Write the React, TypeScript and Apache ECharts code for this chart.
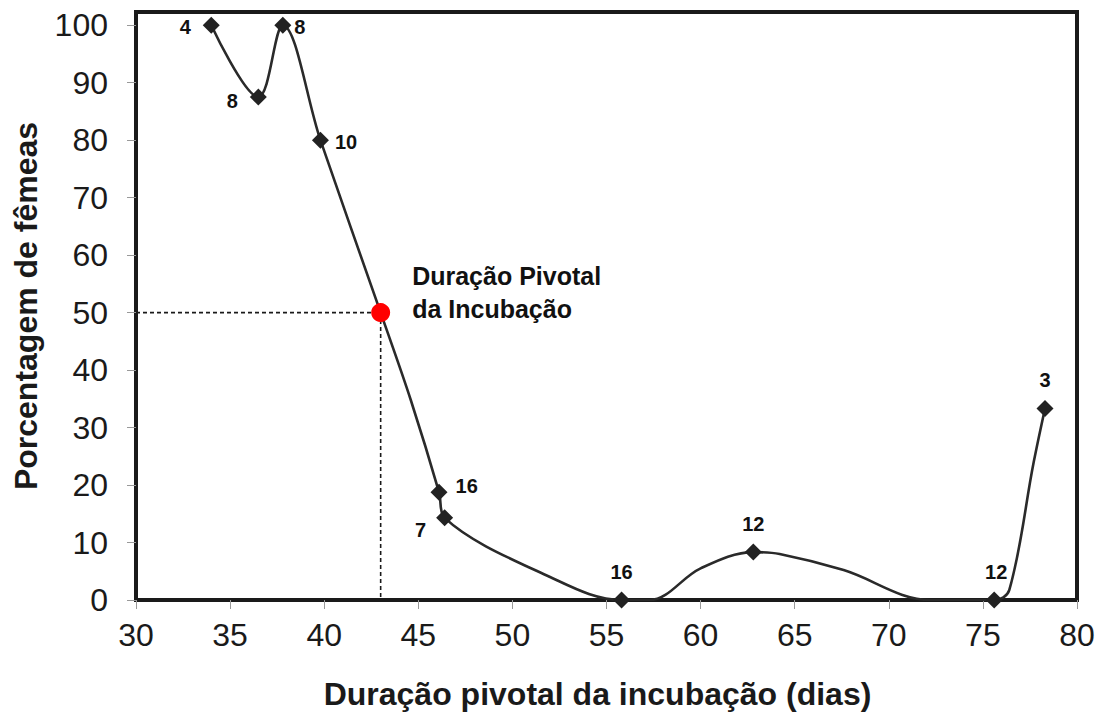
import React, { useEffect, useRef } from "react";
import * as echarts from "echarts";

// Marked observations: incubation duration (days), % females, sample size (n)
const durationDays = [34.0, 36.5, 37.8, 39.8, 46.1, 46.4, 55.8, 62.8, 75.6, 78.3];
const pctFemales = [100, 87.5, 100, 80, 18.75, 14.29, 0, 8.33, 0, 33.33];
const sampleSizes = [4, 8, 8, 10, 16, 7, 16, 12, 12, 3];

// Smoothed fitted curve
const curveX = [34.0, 36.5, 37.8, 39.8, 43.0, 44.6, 46.1, 46.4, 52.0, 55.8, 57.3, 60.0, 62.8, 64.2, 67.6, 72.2, 75.6, 76.4, 77.7, 78.3];
const curveY = [100, 87.5, 100, 80, 50, 34.8, 18.75, 14.29, 4.0, 0, 0, 5.5, 8.33, 8.0, 5.2, 0, 0, 1.7, 24, 33.33];

// Pivotal duration point
const pivotX = 43.0;
const pivotY = 50;

// Axis ticks
const xTicks = [30, 35, 40, 45, 50, 55, 60, 65, 70, 75, 80];
const yTicks = [0, 10, 20, 30, 40, 50, 60, 70, 80, 90, 100];

const xTitle = "Duração pivotal da incubação (dias)";
const yTitle = "Porcentagem de fêmeas";
const pivotLabel = "Duração Pivotal\nda Incubação";

// label placement per marker (style only)
const labelPlacement: any[] = [
  { position: "left", distance: 12, offset: [0, 2] },
  { position: "left", distance: 12, offset: [0, 4] },
  { position: "right", distance: 3, offset: [0, 2] },
  { position: "right", distance: 6, offset: [0, 2] },
  { position: "right", distance: 8, offset: [0, -6] },
  { position: "left", distance: 10, offset: [0, 12] },
  { position: "top", distance: 10, offset: [0, 0] },
  { position: "top", distance: 10, offset: [0, 0] },
  { position: "top", distance: 10, offset: [2, 0] },
  { position: "top", distance: 10, offset: [0, 0] },
];

const FONT = "'Liberation Sans', Arial, sans-serif";

export default function App() {
  const ref = useRef<HTMLDivElement>(null);

  useEffect(() => {
    if (!ref.current) return;
    const chart = echarts.init(ref.current, null, { renderer: "svg" });

    const curveData = curveX.map((x, i) => [x, curveY[i]]);
    const markerData = durationDays.map((x, i) => ({
      value: [x, pctFemales[i]],
      label: {
        show: true,
        formatter: String(sampleSizes[i]),
        ...labelPlacement[i],
      },
    }));

    chart.setOption({
      animation: false,
      backgroundColor: "#ffffff",
      grid: {
        left: 136,
        right: 23,
        top: 12,
        bottom: 117,
        show: true,
        borderColor: "#1a1a1a",
        borderWidth: 4,
        backgroundColor: "transparent",
        containLabel: false,
        outerBoundsMode: "none",
      },
      xAxis: {
        type: "value",
        min: 30,
        max: 80,
        interval: 5,
        name: xTitle,
        nameLocation: "middle",
        nameGap: 78,
        nameTextStyle: {
          fontFamily: FONT,
          fontSize: 32,
          fontWeight: "bold",
          color: "#1a1a1a",
          padding: [0, 18, 0, 0],
        },
        axisLine: { show: false },
        axisTick: {
          show: true,
          length: 9,
          lineStyle: { color: "#999", width: 1 },
          customValues: xTicks,
        },
        axisLabel: {
          fontFamily: FONT,
          fontSize: 32,
          color: "#1a1a1a",
          margin: 19,
          customValues: xTicks,
        },
        splitLine: { show: false },
      },
      yAxis: {
        type: "value",
        min: 0,
        max: 102.3,
        interval: 10,
        name: yTitle,
        nameLocation: "middle",
        nameGap: 94,
        nameTextStyle: {
          fontFamily: FONT,
          fontSize: 32,
          fontWeight: "bold",
          color: "#1a1a1a",
        },
        axisLine: { show: false },
        axisTick: {
          show: true,
          length: 9,
          lineStyle: { color: "#999", width: 1 },
          customValues: yTicks,
        },
        axisLabel: {
          fontFamily: FONT,
          fontSize: 32,
          color: "#1a1a1a",
          margin: 28,
          customValues: yTicks,
        },
        splitLine: { show: false },
      },
      series: [
        {
          type: "line",
          data: [
            [xTicks[0], pivotY],
            [pivotX, pivotY],
            [pivotX, yTicks[0]],
          ],
          symbol: "none",
          lineStyle: { color: "#1a1a1a", width: 1.6, type: [4, 3] },
          z: 1,
          silent: true,
        },
        {
          type: "line",
          data: curveData,
          smooth: 0.35,
          symbol: "none",
          lineStyle: { color: "#2a2a2a", width: 2.6 },
          z: 2,
          silent: true,
        },
        {
          type: "scatter",
          data: markerData,
          symbol: "diamond",
          symbolSize: 17,
          itemStyle: { color: "#222222", opacity: 1 },
          label: {
            fontFamily: FONT,
            fontSize: 20,
            fontWeight: "bold",
            color: "#111",
            opacity: 1,
          },
          z: 3,
        },
        {
          type: "scatter",
          data: [[pivotX, pivotY]],
          symbol: "circle",
          symbolSize: 19,
          itemStyle: { color: "#ff0000", opacity: 1 },
          label: {
            show: true,
            position: "right",
            distance: 22,
            offset: [0, -20],
            align: "left",
            formatter: pivotLabel,
            fontFamily: FONT,
            fontSize: 25,
            fontWeight: "bold",
            lineHeight: 33,
            color: "#111",
            opacity: 1,
          },
          z: 4,
        },
      ],
    });

    return () => chart.dispose();
  }, []);

  return (
    <div
      ref={ref}
      style={{ position: "fixed", left: 0, top: 0, width: 1100, height: 717, background: "#fff" }}
    />
  );
}
